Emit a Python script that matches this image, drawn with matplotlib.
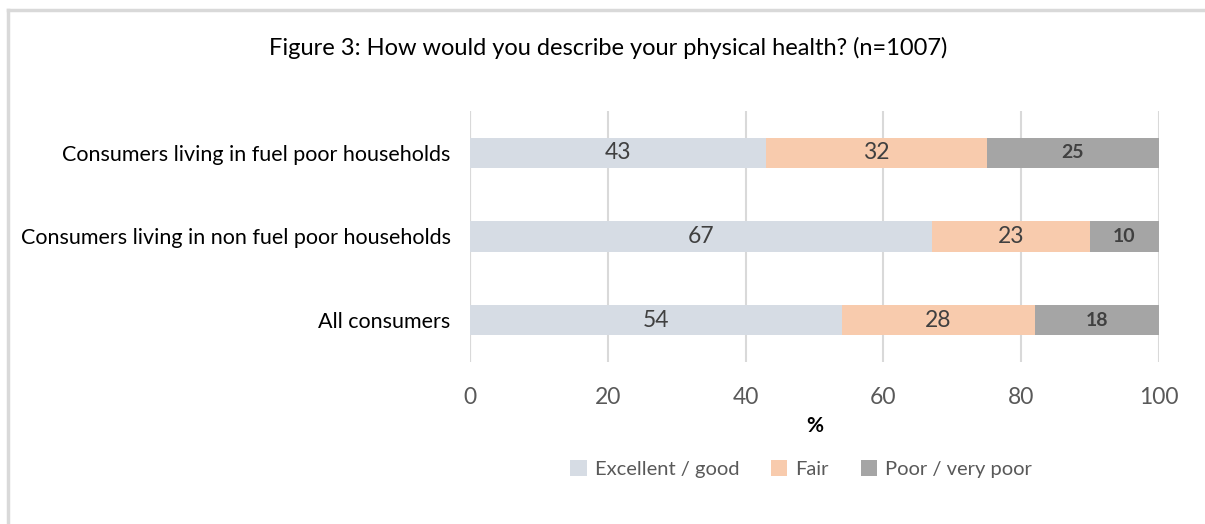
import numpy as np
import matplotlib.pyplot as plt
from matplotlib.lines import Line2D

plt.rcParams['font.family'] = ['Lato', 'DejaVu Sans']

categories = ["Consumers living in fuel poor households",
              "Consumers living in non fuel poor households",
              "All consumers"]
series_names = ["Excellent / good", "Fair", "Poor / very poor"]
excellent = [43, 67, 54]
fair = [32, 23, 28]
poor = [25, 10, 18]
xticks = [0, 20, 40, 60, 80, 100]

colors = ["#d6dce4", "#f8cbad", "#a5a5a5"]

fig = plt.figure(figsize=(12.05, 5.24), dpi=100)
ax = fig.add_axes([0.3900, 0.3092, 0.5718, 0.4790])

# light frame around the chart area: only left and top edges show
frame_kw = dict(transform=fig.transFigure, color="#d9d9d9", linewidth=2.5)
fig.lines.append(Line2D([0.0068, 0.0068], [0.0, 0.981], **frame_kw))
fig.lines.append(Line2D([0.0068, 1.0], [0.981, 0.981], **frame_kw))

y = np.arange(len(categories))
left = np.zeros(len(categories))
for i, (name, vals) in enumerate(zip(series_names, [excellent, fair, poor])):
    bars = ax.barh(y, vals, left=left, height=0.36, color=colors[i], label=name, zorder=3)
    for b, v in zip(bars, vals):
        ax.text(b.get_x() + b.get_width() / 2, b.get_y() + b.get_height() / 2, str(v),
                ha="center", va="center", fontsize=16.5 if i < 2 else 14,
                fontweight="bold" if i == 2 else "normal", color="#404040", zorder=4)
    left += np.array(vals)

ax.set_yticks(y)
ax.set_yticklabels(categories, fontsize=15.5, color="#000000")
ax.set_ylim(len(categories) - 0.5, -0.5)
ax.set_xlim(0, 100)
ax.set_xticks(xticks)
ax.set_xticklabels([str(t) for t in xticks], fontsize=16.5, color="#595959")
ax.tick_params(axis="both", length=0)
ax.tick_params(axis="x", pad=18)
ax.tick_params(axis="y", pad=14)
ax.grid(axis="x", color="#d9d9d9", linewidth=1.5, zorder=0)
for s in ax.spines.values():
    s.set_visible(False)
ax.axvline(0, color="#d9d9d9", linewidth=1.5, zorder=1)

ax.set_xlabel("%", fontsize=15, fontweight="bold", labelpad=6)

fig.text(0.505, 0.908, "Figure 3: How would you describe your physical health? (n=1007)",
         ha="center", va="center", fontsize=17)

leg = fig.legend(loc="center", bbox_to_anchor=(0.665, 0.105), ncol=3, frameon=False,
                 fontsize=14.5, handlelength=0.8, handleheight=0.8, handletextpad=0.4,
                 columnspacing=1.6)
for t in leg.get_texts():
    t.set_color("#595959")

fig.savefig("out.png", dpi=100)
